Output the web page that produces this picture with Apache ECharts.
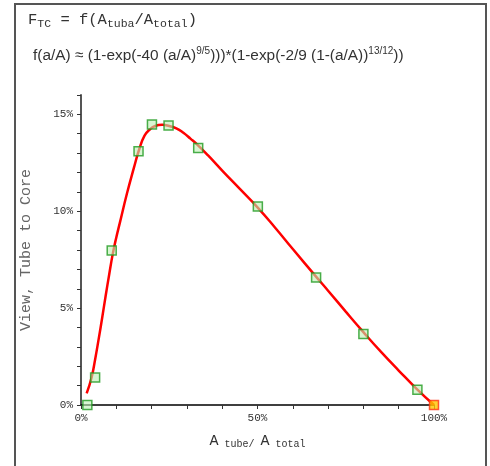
<!DOCTYPE html>
<html>
<head>
<meta charset="utf-8">
<script src="https://cdn.jsdelivr.net/npm/echarts@6/dist/echarts.min.js"></script>
<style>
  html, body { margin: 0; padding: 0; background: #fff; }
  #chart { width: 490px; height: 466px; }
</style>
</head>
<body>
<div id="chart"></div>
<script>
// measured samples (tube area fraction -> view factor)
const sampleX = [0.018, 0.04, 0.087, 0.163, 0.201, 0.248, 0.332, 0.501, 0.666, 0.80, 0.953]
const sampleY = [0.000, 0.0142, 0.0797, 0.131, 0.1448, 0.1442, 0.1327, 0.1024, 0.0658, 0.0366, 0.0079]
const endX = [1.0]
const endY = [0.0]

// fitted curve
const curveX = [0.016, 0.03, 0.04, 0.05, 0.06, 0.07, 0.08, 0.09, 0.10, 0.11, 0.13, 0.15, 0.165, 0.18, 0.195, 0.21, 0.23,
  0.25, 0.27, 0.29, 0.31, 0.33, 0.36, 0.40, 0.45, 0.50, 0.55, 0.60, 0.667, 0.70, 0.75, 0.80, 0.85, 0.90, 0.95, 1.0]
const curveY = [0.006, 0.0142, 0.0235, 0.034, 0.045, 0.0565, 0.0675, 0.078, 0.0865, 0.094, 0.109, 0.1225, 0.1320, 0.1390,
  0.1422, 0.1440, 0.1446, 0.1440, 0.1428, 0.1405, 0.1375, 0.1343, 0.1288, 0.1210, 0.1115, 0.1020, 0.0915, 0.0805,
  0.0660, 0.0590, 0.0482, 0.0376, 0.0274, 0.0178, 0.0085, 0]

// labelled ticks (percent)
const xLabelTicks = [0, 50, 100]
const yLabelTicks = [0, 5, 10, 15]

const MONO = '"Liberation Mono", "DejaVu Sans Mono", monospace'
const SANS = '"Liberation Sans", Arial, sans-serif'
const TEXT = '#333'

const zip = (xs, ys) => xs.map((x, i) => [x, ys[i]])
const pctLabel = (ticks) => (v) => {
  const p = Math.round(v * 100)
  return ticks.includes(p) && Math.abs(v * 100 - p) < 1e-6 ? p + '%' : ''
}

const chart = echarts.init(document.getElementById('chart'), null, { renderer: 'canvas' })

chart.setOption({
  backgroundColor: '#fff',
  animation: false,
  grid: { left: 81, right: 56, top: 95, bottom: 61, containLabel: false },
  graphic: [
    {
      type: 'rect',
      shape: { x: 15, y: 4, width: 471, height: 480 },
      style: { fill: 'none', stroke: '#555', lineWidth: 2 },
      silent: true
    },
    {
      type: 'text',
      left: 28, top: 12,
      style: {
        text: '{m|F}{s|TC}{m| = f(A}{s|tuba}{m|/A}{s|total}{m|)}',
        rich: {
          m: { fontFamily: MONO, fontSize: 15.5, lineHeight: 20, fill: TEXT, verticalAlign: 'middle' },
          s: { fontFamily: MONO, fontSize: 11.5, lineHeight: 11, fill: TEXT, verticalAlign: 'bottom' }
        }
      }
    },
    {
      type: 'text',
      left: 33, top: 46,
      style: {
        text: '{m|f(a/A) ≈ (1-exp(-40 (a/A)}{p|9/5}{m|))}{m|)*(1-exp(-2/9 (1-(a/A))}{p|13/12}{m|))}',
        rich: {
          m: { fontFamily: SANS, fontSize: 15.4, lineHeight: 20, fill: TEXT, verticalAlign: 'middle' },
          p: { fontFamily: SANS, fontSize: 10, lineHeight: 10, fill: TEXT, verticalAlign: 'top' }
        }
      }
    }
  ],
  xAxis: {
    type: 'value',
    min: 0, max: 1, interval: 0.1,
    name: '{a|A}{s| tube/ }{a|A}{s| total}',
    nameLocation: 'middle',
    nameGap: 28,
    nameTextStyle: {
      rich: {
        a: { fontFamily: MONO, fontSize: 15, lineHeight: 16, color: TEXT, verticalAlign: 'middle' },
        s: { fontFamily: MONO, fontSize: 10, lineHeight: 10, color: TEXT, verticalAlign: 'bottom' }
      }
    },
    axisLine: { show: true, onZero: false, lineStyle: { color: '#000', width: 1.5 } },
    axisTick: { show: true, inside: false, length: 4, lineStyle: { color: '#333' } },
    axisLabel: {
      interval: 0, margin: 8,
      fontFamily: MONO, fontSize: 11, color: TEXT,
      formatter: pctLabel(xLabelTicks)
    },
    splitLine: { show: false }
  },
  yAxis: {
    type: 'value',
    min: 0, max: 0.16, interval: 0.01,
    name: 'View, Tube to Core',
    nameLocation: 'middle',
    nameGap: 47,
    nameRotate: 90,
    nameTextStyle: { fontFamily: MONO, fontSize: 15, color: '#666' },
    axisLine: { show: true, onZero: false, lineStyle: { color: '#555', width: 2 } },
    axisTick: { show: true, inside: false, length: 4, lineStyle: { color: '#333' } },
    axisLabel: {
      interval: 0, margin: 8,
      fontFamily: MONO, fontSize: 11, color: TEXT,
      formatter: pctLabel(yLabelTicks)
    },
    splitLine: { show: false }
  },
  series: [
    {
      type: 'line',
      data: zip(curveX, curveY),
      smooth: 0.5,
      showSymbol: false,
      lineStyle: { color: '#ff0000', width: 2.5 },
      z: 2
    },
    {
      type: 'scatter',
      data: zip(sampleX, sampleY),
      symbol: 'rect',
      symbolSize: 9,
      itemStyle: { color: 'rgba(190,240,180,0.75)', borderColor: '#1f9a1f', borderWidth: 1.5 },
      z: 3
    },
    {
      type: 'scatter',
      data: zip(endX, endY),
      symbol: 'rect',
      symbolSize: 9,
      itemStyle: { color: '#ffc400', borderColor: '#ff3010', borderWidth: 1.5 },
      z: 4
    }
  ]
})
</script>
</body>
</html>
